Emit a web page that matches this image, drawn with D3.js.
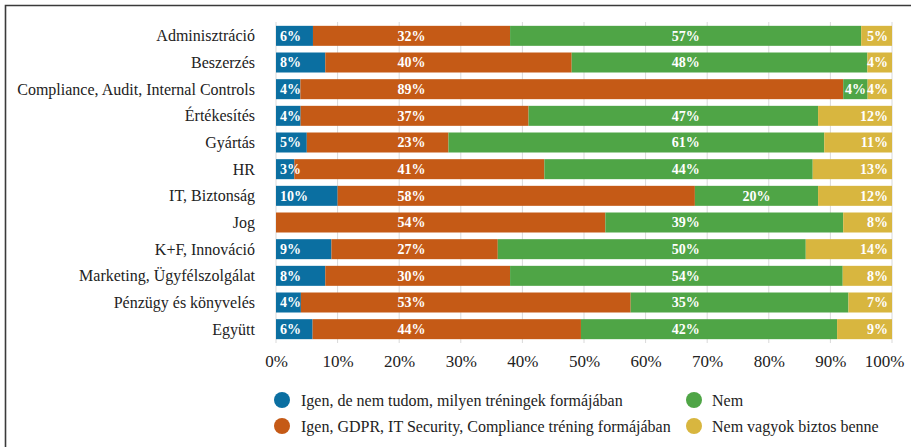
<!DOCTYPE html>
<html>
<head>
<meta charset="utf-8">
<script src="https://cdn.jsdelivr.net/npm/d3@7"></script>
<style>
  body { margin: 0; background: #fff; }
  text { font-family: 'Liberation Serif', 'Times New Roman', serif; }
</style>
</head>
<body>
<div id="chart"></div>
<script>
let categories = [
  'Adminisztráció',
  'Beszerzés',
  'Compliance, Audit, Internal Controls',
  'Értékesítés',
  'Gyártás',
  'HR',
  'IT, Biztonság',
  'Jog',
  'K+F, Innováció',
  'Marketing, Ügyfélszolgálat',
  'Pénzügy és könyvelés',
  'Együtt'
]

let seriesNames = [
  'Igen, de nem tudom, milyen tréningek formájában',
  'Igen, GDPR, IT Security, Compliance tréning formájában',
  'Nem',
  'Nem vagyok biztos benne'
]

let igenNemTudom = [6, 8, 4, 4, 5, 3, 10, 0, 9, 8, 4, 6]
let igenGdpr = [32, 40, 89, 37, 23, 41, 58, 54, 27, 30, 53, 44]
let nem = [57, 48, 4, 47, 61, 44, 20, 39, 50, 54, 35, 42]
let nemBiztos = [5, 4, 4, 12, 11, 13, 12, 8, 14, 8, 7, 9]

let xTicks = [0, 0.1, 0.2, 0.3, 0.4, 0.5, 0.6, 0.7, 0.8, 0.9, 1]

let colors = ['#0b6fa1', '#c55a16', '#4fa546', '#d8b63f']

let width = 911
let height = 447

let svg = d3
  .select('#chart')
  .append('svg')
  .attr('width', width)
  .attr('height', height)

// frame (top + left only, like the screenshot)
svg
  .append('path')
  .attr('d', 'M5.5,' + height + 'V5.5H' + width)
  .attr('fill', 'none')
  .attr('stroke', '#3a3a3a')
  .attr('stroke-width', 1.6)

let xPositionScale = d3.scaleLinear().domain([0, 1]).range([276, 892])
let yPositionScale = d3
  .scaleBand()
  .domain(categories)
  .range([22.5, 342.5])
  .paddingInner(0.25)
  .paddingOuter(0.125)

let rows = categories.map((c, i) => ({
  cat: c,
  s0: igenNemTudom[i],
  s1: igenGdpr[i],
  s2: nem[i],
  s3: nemBiztos[i]
}))

let keys = ['s0', 's1', 's2', 's3']
let stacked = d3.stack().keys(keys).offset(d3.stackOffsetExpand)(rows)

// grid lines
svg
  .append('g')
  .attr('class', 'grid')
  .selectAll('line')
  .data(xTicks)
  .enter()
  .append('line')
  .attr('x1', d => xPositionScale(d))
  .attr('x2', d => xPositionScale(d))
  .attr('y1', 22)
  .attr('y2', 343)
  .attr('stroke', '#d9d9d9')
  .attr('stroke-width', 1)

let layers = svg
  .selectAll('.layer')
  .data(stacked)
  .enter()
  .append('g')
  .attr('class', 'layer')
  .attr('fill', (d, i) => colors[i])

layers
  .selectAll('rect')
  .data(d => d)
  .enter()
  .append('rect')
  .attr('x', d => xPositionScale(d[0]))
  .attr('y', d => yPositionScale(d.data.cat))
  .attr('width', d => xPositionScale(d[1]) - xPositionScale(d[0]))
  .attr('height', yPositionScale.bandwidth())

// labels: blue at the start, orange/green lined up in a column, yellow at the end
let labels = svg.append('g').attr('class', 'labels')

stacked.forEach((layer, li) => {
  let colX = (xPositionScale(layer[0][0]) + xPositionScale(layer[0][1])) / 2
  layer.forEach(d => {
    let v = d.data[keys[li]]
    if (v === 0) return
    let x0 = xPositionScale(d[0])
    let x1 = xPositionScale(d[1])
    let x = (x0 + x1) / 2
    let anchor = 'middle'
    if (li === 0) {
      x = x0 + 4
      anchor = 'start'
    } else if (li === 3) {
      x = x1 - 4
      anchor = 'end'
    } else if (colX > x0 && colX < x1) {
      x = colX
    }
    labels
      .append('text')
      .attr('x', x)
      .attr('y', yPositionScale(d.data.cat) + yPositionScale.bandwidth() / 2)
      .attr('dy', '0.35em')
      .attr('text-anchor', anchor)
      .attr('fill', '#fff')
      .attr('font-size', 14)
      .attr('font-weight', 'bold')
      .text(v + '%')
  })
})

// category labels
svg
  .append('g')
  .selectAll('text')
  .data(categories)
  .enter()
  .append('text')
  .attr('x', 255)
  .attr('y', d => yPositionScale(d) + yPositionScale.bandwidth() / 2)
  .attr('dy', '0.35em')
  .attr('text-anchor', 'end')
  .attr('font-size', 16)
  .attr('fill', '#222')
  .text(d => d)

// x axis
let xAxis = d3
  .axisBottom(xPositionScale)
  .tickValues(xTicks)
  .tickFormat(d3.format('.0%'))
  .tickSize(0)
  .tickPadding(0)

let xg = svg
  .append('g')
  .attr('class', 'x-axis')
  .attr('transform', 'translate(0,361)')
  .call(xAxis)

xg.select('.domain').remove()
xg.selectAll('text')
  .attr('font-family', "'Liberation Serif', 'Times New Roman', serif")
  .attr('font-size', 17)
  .attr('fill', '#222')
  .attr('dy', '0.35em')
// keep the last label inside the picture
xg.selectAll('.tick:last-of-type text')
  .attr('text-anchor', 'end')
  .attr('x', 12)

// legend
let legendPos = [
  { cx: 282, tx: 301, y: 400 },
  { cx: 282, tx: 301, y: 426 },
  { cx: 694, tx: 712, y: 400 },
  { cx: 694, tx: 712, y: 426 }
]

let legend = svg
  .append('g')
  .attr('class', 'legend')
  .selectAll('g')
  .data(seriesNames)
  .enter()
  .append('g')

legend
  .append('circle')
  .attr('cx', (d, i) => legendPos[i].cx)
  .attr('cy', (d, i) => legendPos[i].y)
  .attr('r', 8)
  .attr('fill', (d, i) => colors[i])

legend
  .append('text')
  .attr('x', (d, i) => legendPos[i].tx)
  .attr('y', (d, i) => legendPos[i].y)
  .attr('dy', '0.35em')
  .attr('font-size', 16)
  .attr('fill', '#222')
  .text(d => d)
</script>
</body>
</html>
